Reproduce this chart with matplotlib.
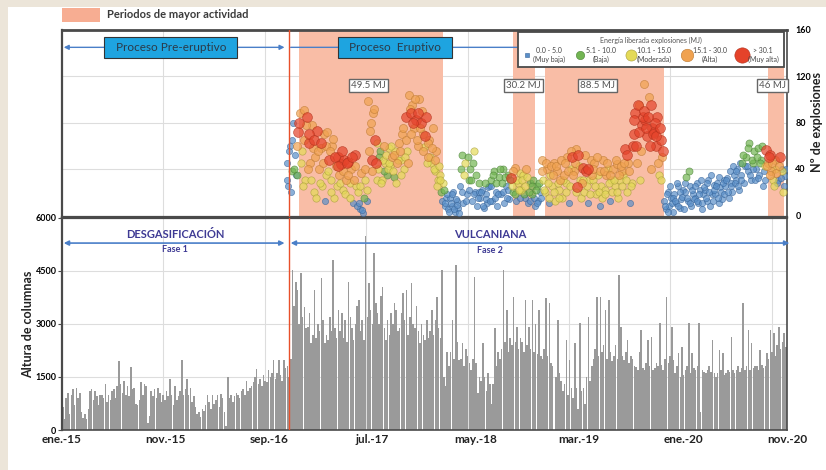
import numpy as np
import pandas as pd
import matplotlib
matplotlib.use('Agg')
import matplotlib.pyplot as plt
import matplotlib.dates as md
from matplotlib.patches import Rectangle
from matplotlib.lines import Line2D

plt.rcParams['font.family'] = ['Liberation Sans Narrow', 'Lato', 'DejaVu Sans']

# altura de columnas (m), un valor cada 5 dias desde ene-2015 (6 valores ~ 1 mes por fila)
alturas = [
    650, 300, 900, 1050, 450, 1000,
    1150, 700, 1200, 900, 1050, 500,
    350, 450, 300, 600, 1100, 1150,
    850, 1100, 950, 700, 1000, 980,
    900, 1300, 800, 1000, 850, 1100,
    1150, 900, 1250, 1950, 1300, 1050,
    1400, 1000, 1250, 950, 1780, 1150,
    1200, 750, 700, 850, 1360, 1000,
    1310, 1250, 200, 400, 1100, 950,
    1170, 900, 1200, 1050, 800, 1000,
    850, 1100, 950, 1450, 1000, 700,
    1250, 850, 950, 1100, 1970, 1000,
    1150, 1450, 1000, 1200, 800, 950,
    650, 450, 500, 370, 600, 550,
    700, 980, 800, 600, 1000, 750,
    850, 1000, 650, 1030, 900, 500,
    100, 1500, 900, 1000, 800, 950,
    1050, 1000, 900, 1100, 1150, 1000,
    1400, 1100, 1200, 1250, 1350, 1500,
    1730, 1300, 1450, 1250, 1550, 1400,
    1350, 1700, 1500, 1600, 1970, 1450,
    1600, 1970, 1550, 1400, 1970, 1750,
    1800, 1500, 2000, 4530, 3500, 4200,
    3960, 3000, 4440, 3200, 3490, 2900,
    2925, 3300, 2450, 2700, 3950, 2600,
    3000, 2800, 4290, 3100, 2450, 2700,
    2550, 3200, 2800, 4800, 2900, 2600,
    3400, 2800, 3300, 2600, 3100, 2500,
    4200, 3200, 2900, 2550, 3000, 3500,
    3680, 2800, 3100, 2550, 5500, 3200,
    4150, 3400, 3000, 5000, 3600, 3300,
    3000, 3800, 4050, 2900, 2550, 3100,
    2700, 3300, 3000, 3580, 3400, 2800,
    2900, 3300, 3870, 3100, 3960, 2700,
    3200, 4150, 3000, 2900, 3500, 2800,
    2450, 3000, 2700, 2550, 3100, 2600,
    2800, 3400, 2700, 3100, 3770, 2900,
    2600, 4530, 1500, 1250, 2200, 1800,
    2200, 3110, 2000, 4670, 2500, 1980,
    2000, 2450, 1800, 2300, 2100, 1900,
    1700, 2000, 4340, 1900, 1040, 1500,
    1400, 2450, 1500, 1100, 1600, 1300,
    750, 1300, 2900, 1800, 2200, 2000,
    2300, 4530, 2500, 3400, 2200, 2600,
    2400, 3770, 2500, 2920, 2300, 2600,
    2500, 2200, 3680, 2400, 2920, 2300,
    3680, 2200, 3000, 2150, 3400, 2100,
    2000, 2300, 3730, 2100, 3580, 1900,
    1800, 0, 1500, 3110, 1600, 1400,
    1100, 1300, 2550, 1000, 1980, 1200,
    900, 2450, 1200, 600, 3020, 1100,
    1200, 750, 1500, 3200, 1400, 1800,
    2000, 2300, 3770, 2100, 3770, 2200,
    2400, 3400, 2000, 3680, 2200, 1950,
    2100, 2400, 2000, 4390, 2920, 2100,
    1980, 2200, 2550, 1900, 2100, 2000,
    1800, 1790, 1700, 2200, 2830, 1750,
    1700, 1900, 2550, 1800, 2640, 1700,
    1750, 1900, 1800, 3020, 1850, 1700,
    2000, 3770, 1900, 2100, 2920, 1980,
    1600, 1800, 2170, 1500, 2360, 1550,
    1700, 1800, 3020, 1600, 2170, 1750,
    1700, 1800, 3020, 500, 1700, 1650,
    1600, 1700, 1800, 1650, 2550, 1600,
    1500, 1600, 2260, 1700, 2170, 1550,
    1600, 1700, 1650, 2640, 1700, 1600,
    1700, 1800, 1650, 1750, 3585, 1700,
    1800, 2830, 1700, 2450, 1750, 1800,
    1800, 1700, 2260, 1850, 1750, 1800,
    2170, 2000, 2830, 2200, 2740, 2100,
    2400, 2920, 2300, 2500, 2740, 2350,
]
fecha_alturas = pd.date_range('2015-01-01', periods=len(alturas), freq='5D')

# numero de explosiones y clase de energia (0 muy baja ... 4 muy alta), cada 5 dias desde oct-2016
explosiones = [
    45, 25, 60, 38, 80, 52,
    35, 72, 88, 55, 91, 30,
    85, 62, 45, 78, 20, 50,
    73, 40, 58, 25, 70, 35,
    72, 48, 30, 60, 15, 42,
    50, 35, 44, 22, 48, 30,
    46, 28, 40, 10, 52, 25,
    20, 5, 36, 2, 30, 12,
    99, 73, 48, 88, 65, 30,
    40, 55, 30, 60, 45, 35,
    58, 42, 50, 33, 55, 45,
    62, 48, 70, 40, 85, 55,
    104, 88, 95, 75, 82, 60,
    100, 80, 70, 59, 85, 50,
    65, 45, 75, 38, 55, 30,
    35, 20, 28, 8, 15, 5,
    15, 8, 20, 3, 12, 6,
    25, 52, 10, 45, 18, 30,
    40, 12, 55, 20, 8, 28,
    15, 22, 6, 18, 10, 25,
    30, 12, 38, 20, 8, 33,
    18, 40, 10, 25, 35, 14,
    32, 20, 41, 12, 28, 36,
    22, 35, 15, 40, 10, 28,
    18, 30, 8, 25, 12, 20,
    48, 30, 20, 40, 10, 35,
    25, 45, 12, 38, 22, 30,
    15, 35, 28, 50, 10, 40,
    50, 38, 57, 24, 42, 15,
    41, 20, 38, 10, 30, 48,
    30, 45, 18, 35, 8, 25,
    48, 22, 35, 40, 12, 30,
    40, 25, 44, 15, 30, 38,
    35, 57, 20, 45, 10, 28,
    70, 88, 45, 95, 30, 78,
    113, 82, 68, 102, 40, 75,
    72, 60, 85, 35, 65, 50,
    12, 5, 20, 8, 15, 3,
    18, 10, 25, 6, 14, 22,
    20, 33, 12, 25, 8, 18,
    15, 28, 10, 22, 5, 18,
    22, 12, 30, 8, 18, 26,
    18, 28, 10, 24, 14, 30,
    25, 32, 15, 28, 20, 35,
    30, 40, 22, 35, 45, 28,
    50, 38, 62, 30, 45, 55,
    40, 58, 35, 48, 25, 42,
    56, 45, 52, 38, 30, 48,
    36, 30, 50, 40, 20, 34,
]
clase_energia = [
    0, 0, 0, 1, 0, 0,
    1, 4, 3, 2, 3, 2,
    4, 4, 3, 3, 2, 3,
    4, 3, 3, 2, 3, 2,
    3, 4, 2, 3, 2, 3,
    4, 3, 4, 2, 4, 3,
    4, 2, 3, 0, 4, 2,
    2, 0, 3, 0, 2, 0,
    3, 3, 4, 3, 4, 2,
    2, 1, 2, 3, 2, 1,
    2, 2, 3, 1, 2, 3,
    3, 2, 3, 2, 4, 2,
    3, 4, 3, 3, 4, 3,
    3, 4, 3, 2, 4, 3,
    3, 2, 3, 2, 3, 2,
    2, 1, 2, 0, 0, 0,
    0, 0, 0, 0, 0, 0,
    0, 1, 0, 2, 0, 1,
    1, 0, 2, 0, 0, 1,
    0, 0, 0, 0, 0, 0,
    1, 0, 1, 0, 0, 1,
    0, 1, 0, 0, 1, 0,
    4, 1, 3, 0, 2, 2,
    2, 2, 0, 3, 0, 1,
    1, 1, 0, 1, 0, 0,
    3, 2, 2, 3, 0, 2,
    2, 3, 2, 3, 2, 3,
    2, 3, 2, 3, 0, 2,
    4, 3, 3, 4, 2, 2,
    4, 2, 4, 0, 2, 3,
    2, 3, 2, 2, 0, 2,
    3, 2, 3, 2, 0, 2,
    3, 2, 3, 2, 2, 3,
    2, 4, 2, 3, 0, 2,
    4, 4, 3, 3, 2, 4,
    3, 4, 4, 3, 3, 4,
    4, 4, 4, 2, 4, 3,
    0, 0, 0, 0, 0, 0,
    0, 0, 0, 0, 0, 0,
    0, 1, 0, 0, 0, 0,
    0, 0, 0, 0, 0, 0,
    0, 0, 0, 0, 0, 0,
    0, 0, 0, 0, 0, 0,
    0, 0, 0, 0, 0, 0,
    0, 0, 0, 0, 1, 0,
    1, 0, 1, 0, 1, 1,
    0, 1, 0, 1, 0, 2,
    4, 3, 4, 3, 2, 3,
    3, 0, 4, 0, 2, 0,
]
fecha_expl = pd.date_range('2016-10-22', periods=len(explosiones), freq='5D')

# segunda muestra diaria (2-3 dias despues de la anterior)
explosiones_2 = [
    30, 55, 20, 65, 40, 35,
    60, 80, 45, 25, 65, 78,
    40, 70, 30, 58, 65, 15,
    55, 28, 62, 45, 12, 60,
    38, 55, 20, 66, 50, 25,
    42, 28, 55, 38, 18, 45,
    35, 15, 50, 30, 42, 8,
    10, 25, 4, 15, 40, 22,
    55, 80, 38, 92, 45, 62,
    50, 28, 48, 38, 52, 40,
    45, 60, 38, 52, 28, 48,
    55, 35, 75, 50, 65, 45,
    92, 70, 80, 100, 65, 88,
    75, 90, 55, 68, 45, 62,
    50, 58, 40, 48, 25, 42,
    30, 12, 22, 10, 18, 3,
    10, 18, 5, 14, 9, 2,
    40, 20, 35, 12, 50, 22,
    30, 45, 18, 35, 15, 20,
    20, 8, 28, 14, 24, 12,
    25, 35, 15, 28, 18, 40,
    28, 20, 33, 15, 22, 30,
    25, 38, 18, 30, 22, 15,
    30, 18, 25, 33, 20, 12,
    25, 15, 22, 10, 28, 15,
    38, 22, 45, 28, 15, 42,
    35, 20, 42, 28, 15, 48,
    30, 45, 20, 38, 25, 55,
    35, 45, 20, 52, 30, 28,
    30, 52, 25, 40, 18, 35,
    40, 25, 50, 20, 38, 15,
    38, 18, 45, 28, 35, 20,
    30, 48, 20, 35, 42, 25,
    45, 30, 52, 38, 25, 60,
    82, 60, 95, 72, 55, 85,
    90, 75, 85, 60, 95, 70,
    80, 68, 45, 75, 30, 55,
    8, 18, 3, 25, 10, 15,
    12, 28, 8, 20, 16, 5,
    28, 15, 38, 10, 22, 14,
    25, 12, 18, 30, 10, 24,
    15, 28, 20, 35, 12, 22,
    25, 15, 33, 20, 28, 18,
    30, 20, 38, 25, 42, 28,
    38, 25, 45, 30, 52, 42,
    42, 58, 35, 48, 40, 30,
    50, 32, 45, 60, 38, 30,
    42, 50, 35, 45, 25, 40,
    28, 42, 32, 38, 25, 40,
]
clase_energia_2 = [
    0, 0, 0, 0, 1, 0,
    3, 4, 2, 2, 3, 3,
    3, 4, 2, 3, 4, 2,
    3, 2, 4, 3, 0, 3,
    2, 3, 2, 3, 4, 2,
    4, 2, 4, 3, 2, 4,
    3, 2, 4, 3, 3, 0,
    0, 2, 0, 1, 3, 2,
    3, 3, 3, 3, 4, 2,
    1, 2, 2, 1, 2, 2,
    2, 2, 2, 3, 2, 2,
    3, 2, 3, 2, 3, 3,
    3, 3, 4, 3, 3, 4,
    3, 3, 3, 4, 2, 3,
    2, 3, 2, 3, 2, 2,
    2, 0, 1, 0, 0, 0,
    0, 0, 0, 0, 0, 0,
    1, 0, 2, 0, 1, 0,
    1, 1, 0, 1, 0, 0,
    0, 0, 1, 0, 0, 0,
    0, 1, 0, 1, 0, 1,
    1, 0, 1, 0, 0, 1,
    2, 3, 1, 2, 2, 0,
    2, 1, 2, 2, 1, 0,
    1, 0, 1, 0, 1, 0,
    3, 2, 3, 2, 2, 3,
    3, 2, 3, 2, 2, 3,
    2, 3, 2, 3, 2, 3,
    3, 3, 2, 4, 2, 3,
    2, 3, 2, 4, 2, 3,
    3, 2, 3, 2, 3, 2,
    3, 2, 3, 2, 3, 2,
    2, 3, 2, 3, 3, 2,
    3, 2, 4, 3, 2, 4,
    4, 4, 4, 4, 3, 4,
    4, 4, 4, 4, 4, 4,
    4, 4, 3, 4, 2, 4,
    0, 0, 0, 0, 0, 0,
    0, 0, 0, 0, 0, 0,
    0, 0, 1, 0, 0, 0,
    0, 0, 0, 0, 0, 0,
    0, 0, 0, 0, 0, 0,
    0, 0, 0, 0, 0, 0,
    0, 0, 0, 0, 0, 0,
    0, 0, 0, 0, 1, 0,
    0, 1, 0, 1, 0, 0,
    1, 0, 1, 1, 0, 0,
    3, 4, 3, 3, 2, 2,
    0, 3, 0, 2, 0, 0,
]
fecha_expl_2 = pd.date_range('2016-10-24', periods=len(explosiones_2), freq='5D')

periodos_inicio = ['2016-11-27', '2018-08-19', '2018-11-22', '2020-09-05']
periodos_fin = ['2018-01-26', '2018-10-23', '2019-11-04', '2020-10-22']
energia_txt = ['49.5 MJ', '30.2 MJ', '88.5 MJ', '46 MJ']
energia_fecha = ['2017-06-19', '2018-09-18', '2019-04-24', '2020-09-19']

clases = ['0.0 - 5.0\n(Muy baja)', '5.1 - 10.0\n(Baja)', '10.1 - 15.0\n(Moderada)',
          '15.1 - 30.0\n(Alta)', '> 30.1\n(Muy alta)']
colores = ['#5a8fc8', '#72b552', '#e4da58', '#f0a250', '#e5432a']
bordes = ['#36649a', '#4a8236', '#a89e3a', '#bd7a32', '#b0301c']
tamanos = [20, 26, 28, 34, 50]

tick_fechas = ['2015-01-01', '2015-11-01', '2016-09-01', '2017-07-01',
               '2018-05-01', '2019-03-01', '2020-01-01', '2020-11-01']
tick_labels = ['ene.-15', 'nov.-15', 'sep.-16', 'jul.-17', 'may.-18', 'mar.-19', 'ene.-20', 'nov.-20']

inicio_erup = pd.Timestamp('2016-10-28')
x0, x1 = pd.Timestamp('2015-01-01'), pd.Timestamp('2020-11-01')

salmon = '#f9bda6'
azul = '#4a7fc8'
morado = '#3e3a94'
oscuro = '#4a4a4a'

fig = plt.figure(figsize=(8.26, 4.70), dpi=100, facecolor='#ece5d9')
fig.patches.append(Rectangle((8 / 826, 0), 1, 1 - 7 / 470, transform=fig.transFigure,
                             facecolor='white', edgecolor='none', zorder=-5))

ax1 = fig.add_axes([0.0751, 0.5383, 0.8777, 0.3979])
ax2 = fig.add_axes([0.0751, 0.0851, 0.8777, 0.4511], sharex=ax1)

# ---- panel superior: explosiones
for a, b in zip(periodos_inicio, periodos_fin):
    ax1.axvspan(pd.Timestamp(a), pd.Timestamp(b), color=salmon, lw=0, zorder=1)

fechas = fecha_expl.append(fecha_expl_2)
expl = np.array(explosiones + explosiones_2)
cls = np.array(clase_energia + clase_energia_2)
for c in range(5):
    m = cls == c
    ax1.scatter(fechas[m], expl[m], s=tamanos[c], c=colores[c], edgecolors=bordes[c],
                linewidths=0.5, alpha=0.7, zorder=3 + c)

ax1.set_ylim(-1.7, 160)
ax1.set_yticks([0, 40, 80, 120, 160])
ax1.yaxis.tick_right()
ax1.tick_params(axis='y', length=0, labelsize=6.5, pad=6)
for t in ax1.get_yticklabels():
    t.set_fontweight('bold')
ax1.tick_params(axis='x', bottom=False, labelbottom=False)

for t, f in zip(energia_txt, energia_fecha):
    ax1.text(pd.Timestamp(f), 112, t, ha='center', va='center', fontsize=7, color='#555555',
             zorder=12, bbox=dict(boxstyle='square,pad=0.2', fc='white', ec='#666666', lw=1))

ax1.annotate('', xy=(pd.Timestamp('2015-01-06'), 145), xytext=(pd.Timestamp('2016-10-16'), 145),
             arrowprops=dict(arrowstyle='<|-|>', color=azul, lw=1, mutation_scale=7,
                             shrinkA=0, shrinkB=0), zorder=4)
ax1.annotate('', xy=(pd.Timestamp('2016-11-03'), 145), xytext=(pd.Timestamp('2018-10-01'), 145),
             arrowprops=dict(arrowstyle='<|-', color=azul, lw=1, mutation_scale=7,
                             shrinkA=0, shrinkB=0), zorder=4)
ax1.text(pd.Timestamp('2015-11-17'), 145, '  Proceso Pre-eruptivo  ', ha='center', va='center',
         fontsize=8.5, color='#2b3a48', zorder=6,
         bbox=dict(boxstyle='square,pad=0.45', fc='#1ea4e0', ec='#333333', lw=0.8))
ax1.text(pd.Timestamp('2017-09-06'), 145, '  Proceso  Eruptivo  ', ha='center', va='center',
         fontsize=8.5, color='#2b3a48', zorder=6,
         bbox=dict(boxstyle='square,pad=0.45', fc='#1ea4e0', ec='#333333', lw=0.8))

handles = []
for i in range(5):
    handles.append(Line2D([], [], ls='', marker='s' if i == 0 else 'o',
                          markersize=[3, 6, 8, 9, 11][i], markerfacecolor=colores[i],
                          markeredgecolor=bordes[i], markeredgewidth=0.4))
leg = ax1.legend(handles, clases, title='Energía liberada explosiones (MJ)', ncol=5,
                 loc='upper right', bbox_to_anchor=(1.0, 1.01), fontsize=5, title_fontsize=5,
                 fancybox=False, edgecolor=oscuro, framealpha=1, handletextpad=0.3,
                 columnspacing=1.5, borderpad=0.7, handlelength=1.2)
leg.get_frame().set_linewidth(1.3)
leg.set_zorder(20)
for t in leg.get_texts():
    t.set_multialignment('center')
    t.set_color('#444444')
leg.get_title().set_color('#555555')

# ---- panel inferior: altura de columnas
ax2.bar(fecha_alturas, alturas, width=4.5, align='edge', color='#9a9a9a', lw=0, zorder=2)
ax2.set_ylim(0, 6000)
ax2.set_yticks([0, 1500, 3000, 4500, 6000])
ax2.tick_params(axis='y', length=3, labelsize=6.5, pad=1, color=oscuro)
for t in ax2.get_yticklabels():
    t.set_fontweight('bold')

ax2.annotate('', xy=(pd.Timestamp('2015-01-06'), 5290), xytext=(pd.Timestamp('2016-10-16'), 5290),
             arrowprops=dict(arrowstyle='<|-|>', color=azul, lw=1.2, mutation_scale=7,
                             shrinkA=0, shrinkB=0), zorder=4)
ax2.annotate('', xy=(pd.Timestamp('2020-11-08'), 5290), xytext=(pd.Timestamp('2016-11-03'), 5290),
             arrowprops=dict(arrowstyle='<|-|>', color=azul, lw=1.2, mutation_scale=7,
                             shrinkA=0, shrinkB=0), zorder=4, annotation_clip=False)
ax2.text(pd.Timestamp('2015-11-29'), 5520, 'DESGASIFICACIÓN', ha='center', va='center',
         fontsize=8, fontweight='bold', color=morado, zorder=5)
ax2.text(pd.Timestamp('2015-11-29'), 5120, 'Fase 1', ha='center', va='center',
         fontsize=6.5, fontweight='bold', color=morado, zorder=5)
ax2.text(pd.Timestamp('2018-06-13'), 5520, 'VULCANIANA', ha='center', va='center',
         fontsize=8, fontweight='bold', color=morado, zorder=5)
ax2.text(pd.Timestamp('2018-06-13'), 5080, 'Fase 2', ha='center', va='center',
         fontsize=6.5, fontweight='bold', color=morado, zorder=5)

ax2.set_xlim(x0, x1)
ax2.set_xticks(pd.to_datetime(tick_fechas))
ax2.set_xticklabels(tick_labels, fontsize=8.5, fontweight='bold', color='#222222')
ax2.tick_params(axis='x', length=0, pad=3)

# rejilla y bordes
lineas_rejilla = pd.date_range('2015-01-01', periods=8, freq='298D')[1:]
for ax, ys in ((ax1, [40, 80, 120]), (ax2, [1500, 3000, 4500])):
    for y in ys:
        ax.axhline(y, color='#dddddd', lw=0.8, zorder=0.5)
    for d in lineas_rejilla:
        ax.axvline(d, color='#dddddd', lw=0.8, zorder=0.5)
    ax.axvline(inicio_erup, color='#e8502a', lw=1, zorder=8)
    ax.set_facecolor('none')
    for s in ax.spines.values():
        s.set_color(oscuro)
        s.set_linewidth(1.2)
ax1.spines['top'].set_linewidth(2)
ax1.spines['left'].set_linewidth(1.6)
ax2.spines['left'].set_linewidth(1.6)
ax1.spines['bottom'].set_linewidth(1.6)
ax2.spines['top'].set_linewidth(1.6)

# leyenda de periodos y etiquetas de ejes
fig.patches.append(Rectangle((62 / 826, 1 - 22 / 470), 38 / 826, 14 / 470, transform=fig.transFigure,
                             facecolor='#f7ad92', edgecolor='none'))
fig.text(107 / 826, 1 - 15 / 470, 'Periodos de mayor actividad', fontsize=8, fontweight='bold',
         color='#3a3a3a', va='center', ha='left')
fig.text(28 / 826, 1 - 324 / 470, 'Altura de columnas', rotation=90, fontsize=9, fontweight='bold',
         color='#222222', va='center', ha='center')
fig.text(817 / 826, 1 - 122 / 470, 'Nº de explosiones', rotation=90, fontsize=9, fontweight='bold',
         color='#222222', va='center', ha='center')

fig.savefig('out.png', dpi=100, facecolor=fig.get_facecolor())
